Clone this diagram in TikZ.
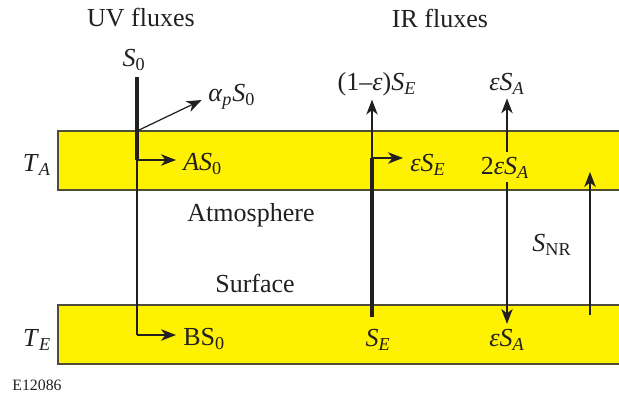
\documentclass[tikz,border=0pt]{standalone}
\usepackage{fontspec}
\setmainfont{Liberation Serif}
\usepackage{tikz}
\usetikzlibrary{arrows.meta}
\definecolor{bandyellow}{HTML}{FFF200}
\definecolor{inkgray}{HTML}{231F20}
\definecolor{bandedge}{HTML}{4F4D38}
\tikzset{
  band/.style={draw=bandedge, fill=bandyellow, line width=0.8pt},
  flux/.style={draw=inkgray, line width=0.7pt, -{Stealth[length=8.5pt, width=6.5pt, inset=2.5pt]}},
  thinflux/.style={draw=inkgray, line width=0.7pt},
  heavyflux/.style={draw=inkgray, line width=2.3pt},
  fluxlabel/.style={text=inkgray, font=\fontsize{14.8}{17}\selectfont, inner sep=0pt},
  figtag/.style={text=inkgray, font=\fontsize{9}{11}\selectfont, inner sep=0pt}
}
\newcommand{\var}[1]{\textit{#1}}

\begin{document}
\begin{tikzpicture}[x=0.02cm, y=-0.02cm]
  \useasboundingbox (0,0) rectangle (619,399);
  \clip (0,0) rectangle (619,399);

  % the two layers
  \path[band] (58,131) rectangle (640,190);
  \path[band] (58,305) rectangle (640,364);
  \node[fluxlabel] (ta) at (37,165) {\var{T}\textsubscript{\var{A}}};
  \node[fluxlabel] (te) at (37,340) {\var{T}\textsubscript{\var{E}}};
  \node[fluxlabel] (atmos) at (251,215) {Atmosphere};
  \node[fluxlabel] (surf) at (255,283) {Surface};

  \node[fluxlabel] (uvhead) at (141,18) {UV fluxes};
  \node[fluxlabel] (irhead) at (440,18) {IR fluxes};

  % UV fluxes
  \node[fluxlabel] (s0) at (134,60) {\var{S}\textsubscript{0}};
  \coordinate (uvtop) at (137,77);
  \coordinate (uvhit) at (137,131);
  \coordinate (uvbend) at (137,160);
  \coordinate (uvlow) at (137,335);
  \node[fluxlabel, anchor=west] (alb) at (208,97) {\var{α}\textsubscript{\var{p}}\var{S}\textsubscript{0}};
  \node[fluxlabel, anchor=west] (as0) at (183,164) {\var{AS}\textsubscript{0}};
  \node[fluxlabel, anchor=west] (bs0) at (183,339) {BS\textsubscript{0}};

  \draw[heavyflux] (uvtop) -- (uvbend);
  \draw[flux, shorten >=4pt] (uvhit) -- (alb.west);
  \draw[flux, shorten >=4pt] (uvbend) -- (uvbend -| as0.west);
  \draw[thinflux] (uvbend) -- (uvlow);
  \draw[flux, shorten >=4pt] (uvlow) -- (uvlow -| bs0.west);

  % IR fluxes
  \node[fluxlabel] (se) at (378,340) {\var{S}\textsubscript{\var{E}}};
  \node[fluxlabel] (escape) at (377,84) {(1–\var{ε})\var{S}\textsubscript{\var{E}}};
  \node[fluxlabel, anchor=west] (ese) at (410,165) {\var{εS}\textsubscript{\var{E}}};
  \coordinate (irbase) at (372,317);
  \coordinate (irbend) at (372,158);
  \draw[heavyflux] (irbase) -- (irbend);
  \draw[flux, shorten >=2pt] (irbend) -- (irbend |- escape.south);
  \draw[flux, shorten >=4pt] (irbend) -- (irbend -| ese.west);

  \node[fluxlabel] (upa) at (507,84) {\var{εS}\textsubscript{\var{A}}};
  \node[fluxlabel] (twoa) at (505,168) {2\var{εS}\textsubscript{\var{A}}};
  \node[fluxlabel] (downa) at (507,340) {\var{εS}\textsubscript{\var{A}}};
  \draw[flux, shorten <=3pt, shorten >=2pt] (twoa.north -| upa.south) -- (upa.south);
  \draw[flux, shorten <=2pt, shorten >=3pt] (twoa.south -| downa.north) -- (downa.north);

  \node[fluxlabel] (snr) at (552,245) {\var{S}\textsubscript{NR}};
  \coordinate (nrbase) at (590,315);
  \coordinate (nrtop) at (590,172);
  \draw[flux] (nrbase) -- (nrtop);

  \node[figtag] (tag) at (37,385) {E12086};
\end{tikzpicture}
\end{document}
